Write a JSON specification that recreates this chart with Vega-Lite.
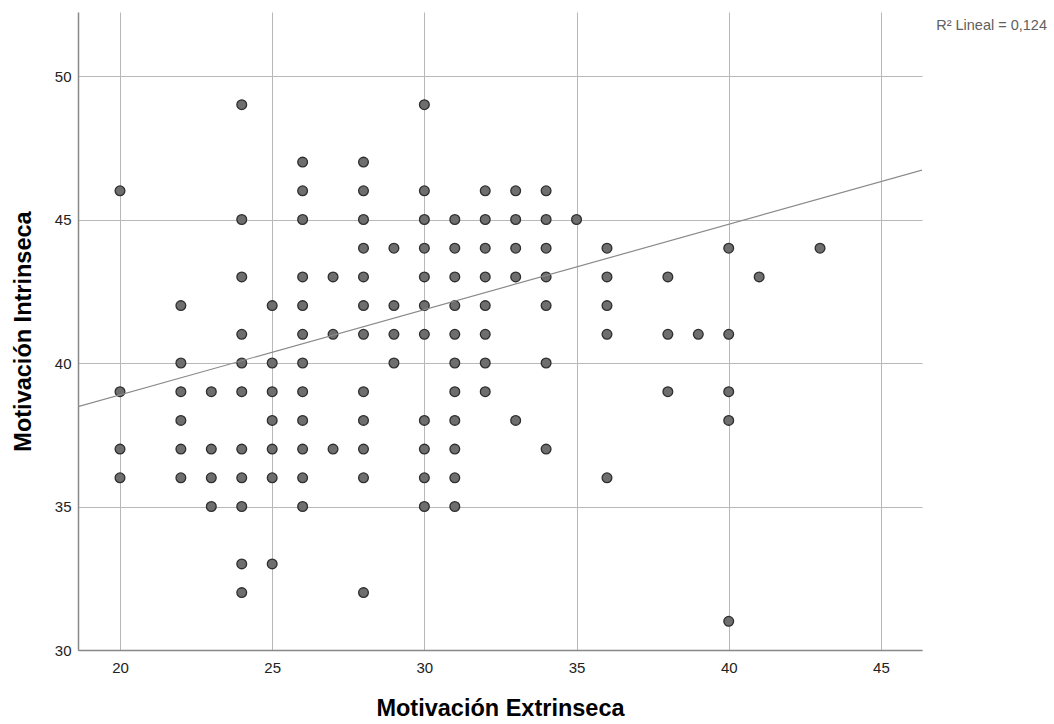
{
  "$schema": "https://vega.github.io/schema/vega-lite/v6.json",
  "autosize": {"type": "none"},
  "padding": {"left": 78, "top": 12, "right": 132, "bottom": 74},
  "width": 844,
  "height": 638,
  "background": "white",
  "config": {
    "view": {"stroke": null},
    "font": "Liberation Sans"
  },
  "title": {
    "text": "R² Lineal = 0,124",
    "anchor": "end",
    "orient": "top",
    "fontSize": 14.5,
    "fontWeight": "normal",
    "color": "#606060",
    "font": "Liberation Sans",
    "dx": 125,
    "offset": -21
  },
  "datasets": {
    "points": [
      {"ext": 20, "int": 46}, {"ext": 20, "int": 39}, {"ext": 20, "int": 37}, {"ext": 20, "int": 36},
      {"ext": 22, "int": 42}, {"ext": 22, "int": 40}, {"ext": 22, "int": 39}, {"ext": 22, "int": 38}, {"ext": 22, "int": 37}, {"ext": 22, "int": 36},
      {"ext": 23, "int": 39}, {"ext": 23, "int": 37}, {"ext": 23, "int": 36}, {"ext": 23, "int": 35},
      {"ext": 24, "int": 49}, {"ext": 24, "int": 45}, {"ext": 24, "int": 43}, {"ext": 24, "int": 41}, {"ext": 24, "int": 40}, {"ext": 24, "int": 39}, {"ext": 24, "int": 37}, {"ext": 24, "int": 36}, {"ext": 24, "int": 35}, {"ext": 24, "int": 33}, {"ext": 24, "int": 32},
      {"ext": 25, "int": 42}, {"ext": 25, "int": 40}, {"ext": 25, "int": 39}, {"ext": 25, "int": 38}, {"ext": 25, "int": 37}, {"ext": 25, "int": 36}, {"ext": 25, "int": 33},
      {"ext": 26, "int": 47}, {"ext": 26, "int": 46}, {"ext": 26, "int": 45}, {"ext": 26, "int": 43}, {"ext": 26, "int": 42}, {"ext": 26, "int": 41}, {"ext": 26, "int": 40}, {"ext": 26, "int": 39}, {"ext": 26, "int": 38}, {"ext": 26, "int": 37}, {"ext": 26, "int": 36}, {"ext": 26, "int": 35},
      {"ext": 27, "int": 43}, {"ext": 27, "int": 41}, {"ext": 27, "int": 37},
      {"ext": 28, "int": 47}, {"ext": 28, "int": 46}, {"ext": 28, "int": 45}, {"ext": 28, "int": 44}, {"ext": 28, "int": 43}, {"ext": 28, "int": 42}, {"ext": 28, "int": 41}, {"ext": 28, "int": 39}, {"ext": 28, "int": 38}, {"ext": 28, "int": 37}, {"ext": 28, "int": 36}, {"ext": 28, "int": 32},
      {"ext": 29, "int": 44}, {"ext": 29, "int": 42}, {"ext": 29, "int": 41}, {"ext": 29, "int": 40},
      {"ext": 30, "int": 49}, {"ext": 30, "int": 46}, {"ext": 30, "int": 45}, {"ext": 30, "int": 44}, {"ext": 30, "int": 43}, {"ext": 30, "int": 42}, {"ext": 30, "int": 41}, {"ext": 30, "int": 38}, {"ext": 30, "int": 37}, {"ext": 30, "int": 36}, {"ext": 30, "int": 35},
      {"ext": 31, "int": 45}, {"ext": 31, "int": 44}, {"ext": 31, "int": 43}, {"ext": 31, "int": 42}, {"ext": 31, "int": 41}, {"ext": 31, "int": 40}, {"ext": 31, "int": 39}, {"ext": 31, "int": 38}, {"ext": 31, "int": 37}, {"ext": 31, "int": 36}, {"ext": 31, "int": 35},
      {"ext": 32, "int": 46}, {"ext": 32, "int": 45}, {"ext": 32, "int": 44}, {"ext": 32, "int": 43}, {"ext": 32, "int": 42}, {"ext": 32, "int": 41}, {"ext": 32, "int": 40}, {"ext": 32, "int": 39},
      {"ext": 33, "int": 46}, {"ext": 33, "int": 45}, {"ext": 33, "int": 44}, {"ext": 33, "int": 43}, {"ext": 33, "int": 38},
      {"ext": 34, "int": 46}, {"ext": 34, "int": 45}, {"ext": 34, "int": 44}, {"ext": 34, "int": 43}, {"ext": 34, "int": 42}, {"ext": 34, "int": 40}, {"ext": 34, "int": 37},
      {"ext": 35, "int": 45},
      {"ext": 36, "int": 44}, {"ext": 36, "int": 43}, {"ext": 36, "int": 42}, {"ext": 36, "int": 41}, {"ext": 36, "int": 36},
      {"ext": 38, "int": 43}, {"ext": 38, "int": 41}, {"ext": 38, "int": 39},
      {"ext": 39, "int": 41},
      {"ext": 40, "int": 44}, {"ext": 40, "int": 41}, {"ext": 40, "int": 39}, {"ext": 40, "int": 38}, {"ext": 40, "int": 31},
      {"ext": 41, "int": 43},
      {"ext": 43, "int": 44}
    ],
    "fit": [
      {"ext": 18.62, "int": 38.48},
      {"ext": 46.35, "int": 46.72}
    ]
  },
  "encoding": {
    "x": {
      "field": "ext",
      "type": "quantitative",
      "scale": {"domain": [18.62, 46.35], "nice": false, "zero": false},
      "axis": {
        "title": "Motivación Extrinseca",
        "titleFontSize": 23.5,
        "titleFontWeight": "bold",
        "titleColor": "#000000",
        "titlePadding": 21,
        "values": [20, 25, 30, 35, 40, 45],
        "labelFontSize": 15,
        "labelColor": "#222222",
        "labelPadding": 10,
        "ticks": false,
        "domainColor": "#888888",
        "domainWidth": 1.5,
        "gridColor": "#b8b8b8",
        "gridWidth": 1
      }
    },
    "y": {
      "field": "int",
      "type": "quantitative",
      "scale": {"domain": [30, 52.23], "nice": false, "zero": false},
      "axis": {
        "title": "Motivación Intrinseca",
        "titleFontSize": 23.5,
        "titleFontWeight": "bold",
        "titleColor": "#000000",
        "titlePadding": 19,
        "values": [30, 35, 40, 45, 50],
        "labelFontSize": 15,
        "labelColor": "#222222",
        "labelPadding": 7,
        "ticks": false,
        "domainColor": "#888888",
        "domainWidth": 1.5,
        "gridColor": "#b8b8b8",
        "gridWidth": 1
      }
    }
  },
  "layer": [
    {
      "data": {"name": "points"},
      "mark": {"type": "point", "filled": true, "shape": "circle", "size": 95, "fill": "#6e6e6e", "stroke": "#2e2e2e", "strokeWidth": 1.3, "opacity": 1}
    },
    {
      "data": {"name": "fit"},
      "mark": {"type": "line", "color": "#8a8a8a", "strokeWidth": 1.2, "clip": true}
    }
  ]
}
